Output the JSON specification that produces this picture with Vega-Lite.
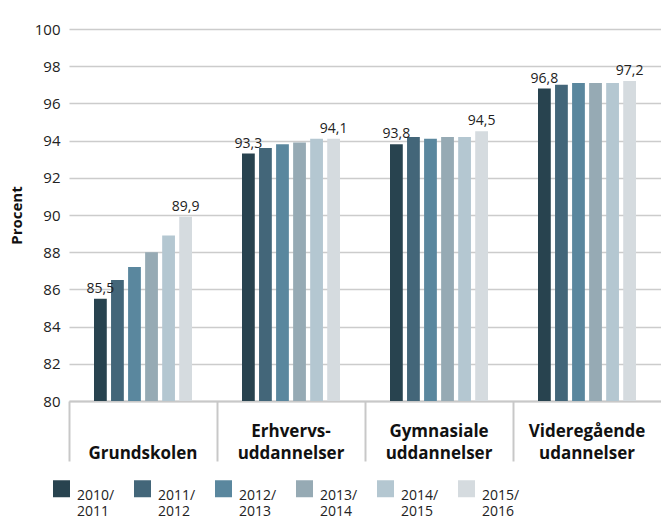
{
  "$schema": "https://vega.github.io/schema/vega-lite/v6.json",
  "width": 592,
  "height": 372,
  "autosize": {"type": "none"},
  "padding": {"left": 69, "top": 29, "right": 0, "bottom": 118},
  "config": {
    "view": {"stroke": null},
    "font": "Open Sans",
    "locale": {"number": {"decimal": ",", "thousands": ".", "grouping": [3], "currency": ["", " kr."]}}
  },
  "data": {
    "values": [
      {"category": "Grundskolen", "year": "2010/2011", "value": 85.5},
      {"category": "Grundskolen", "year": "2011/2012", "value": 86.5},
      {"category": "Grundskolen", "year": "2012/2013", "value": 87.2},
      {"category": "Grundskolen", "year": "2013/2014", "value": 88.0},
      {"category": "Grundskolen", "year": "2014/2015", "value": 88.9},
      {"category": "Grundskolen", "year": "2015/2016", "value": 89.9},
      {"category": "Erhvervs- uddannelser", "year": "2010/2011", "value": 93.3},
      {"category": "Erhvervs- uddannelser", "year": "2011/2012", "value": 93.6},
      {"category": "Erhvervs- uddannelser", "year": "2012/2013", "value": 93.8},
      {"category": "Erhvervs- uddannelser", "year": "2013/2014", "value": 93.9},
      {"category": "Erhvervs- uddannelser", "year": "2014/2015", "value": 94.1},
      {"category": "Erhvervs- uddannelser", "year": "2015/2016", "value": 94.1},
      {"category": "Gymnasiale uddannelser", "year": "2010/2011", "value": 93.8},
      {"category": "Gymnasiale uddannelser", "year": "2011/2012", "value": 94.2},
      {"category": "Gymnasiale uddannelser", "year": "2012/2013", "value": 94.1},
      {"category": "Gymnasiale uddannelser", "year": "2013/2014", "value": 94.2},
      {"category": "Gymnasiale uddannelser", "year": "2014/2015", "value": 94.2},
      {"category": "Gymnasiale uddannelser", "year": "2015/2016", "value": 94.5},
      {"category": "Videregående udannelser", "year": "2010/2011", "value": 96.8},
      {"category": "Videregående udannelser", "year": "2011/2012", "value": 97.0},
      {"category": "Videregående udannelser", "year": "2012/2013", "value": 97.1},
      {"category": "Videregående udannelser", "year": "2013/2014", "value": 97.1},
      {"category": "Videregående udannelser", "year": "2014/2015", "value": 97.1},
      {"category": "Videregående udannelser", "year": "2015/2016", "value": 97.2}
    ]
  },
  "encoding": {
    "x": {
      "field": "category",
      "type": "nominal",
      "sort": ["Grundskolen", "Erhvervs- uddannelser", "Gymnasiale uddannelser", "Videregående udannelser"],
      "scale": {"paddingInner": 0, "paddingOuter": 0},
      "axis": {
        "title": null,
        "labelAngle": 0,
        "bandPosition": 0,
        "tickSize": 60,
        "tickWidth": 2,
        "tickColor": "#c8c8c8",
        "domainColor": "#c8c8c8",
        "domainWidth": 2,
        "labelFontSize": 17,
        "labelFontWeight": "bold",
        "labelColor": "#111111",
        "labelBaseline": "bottom",
        "labelPadding": -21,
        "labelLineHeight": 22,
        "labelOverlap": false,
        "labelExpr": "length(split(datum.label, ' ')) == 1 ? ['', datum.label] : split(datum.label, ' ')"
      }
    },
    "xOffset": {
      "field": "year",
      "type": "nominal",
      "scale": {"range": [25, 123], "paddingInner": 0.25, "paddingOuter": 0}
    },
    "y": {
      "field": "value",
      "type": "quantitative",
      "scale": {"domain": [80, 100], "nice": false, "zero": false},
      "axis": {
        "values": [80, 82, 84, 86, 88, 90, 92, 94, 96, 98, 100],
        "grid": true,
        "gridColor": "#cccccc",
        "gridWidth": 1.5,
        "domain": false,
        "ticks": false,
        "labelPadding": 9,
        "labelFontSize": 15,
        "labelColor": "#222222",
        "title": "Procent",
        "titleFontSize": 15,
        "titleFontWeight": "bold",
        "titleColor": "#111111",
        "titlePadding": 10
      }
    }
  },
  "layer": [
    {
      "mark": {"type": "bar", "clip": true},
      "encoding": {
        "color": {
          "field": "year",
          "type": "nominal",
          "scale": {
            "domain": ["2010/2011", "2011/2012", "2012/2013", "2013/2014", "2014/2015", "2015/2016"],
            "range": ["#28434f", "#436679", "#5a879e", "#96aab4", "#b4c7d1", "#d5dbdf"]
          },
          "legend": {
            "title": null,
            "orient": "none",
            "legendX": -16,
            "legendY": 451,
            "direction": "horizontal",
            "columns": 6,
            "symbolType": "square",
            "symbolSize": 289,
            "symbolStrokeWidth": 0,
            "labelFontSize": 14,
            "labelColor": "#222222",
            "labelBaseline": "top",
            "labelOffset": 7,
            "columnPadding": 19,
            "labelExpr": "[slice(datum.label, 0, 5), slice(datum.label, 5)]"
          }
        }
      }
    },
    {
      "transform": [{"filter": {"field": "year", "oneOf": ["2010/2011", "2015/2016"]}}],
      "mark": {"type": "text", "baseline": "bottom", "dy": -3, "fontSize": 14, "color": "#222222"},
      "encoding": {"text": {"field": "value", "type": "quantitative", "format": ".1f"}}
    }
  ]
}
